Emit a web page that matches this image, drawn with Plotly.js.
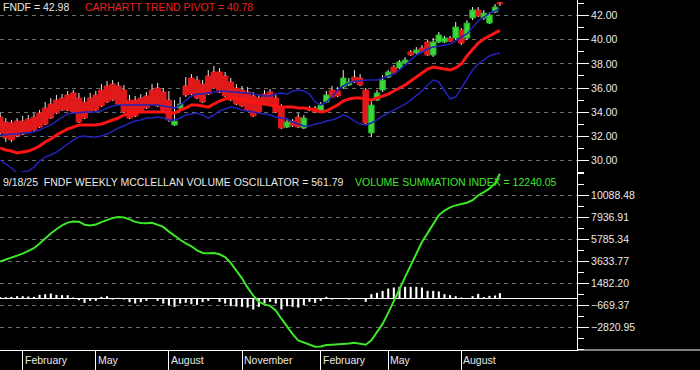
<!DOCTYPE html>
<html><head><meta charset="utf-8">
<script src="https://cdn.plot.ly/plotly-3.0.1.min.js"></script>
<style>html,body{margin:0;padding:0;background:#000;overflow:hidden}#chart{width:700px;height:370px}</style>
</head><body><div id="chart"></div>
<script>
const dates = ['2024-01-05','2024-01-12','2024-01-19','2024-01-26','2024-02-02','2024-02-09','2024-02-16','2024-02-23','2024-03-01','2024-03-08','2024-03-15','2024-03-22','2024-03-29','2024-04-05','2024-04-12','2024-04-19','2024-04-26','2024-05-03','2024-05-10','2024-05-17','2024-05-24','2024-05-31','2024-06-07','2024-06-14','2024-06-21','2024-06-28','2024-07-05','2024-07-12','2024-07-19','2024-07-26','2024-08-02','2024-08-09','2024-08-16','2024-08-23','2024-08-30','2024-09-06','2024-09-13','2024-09-20','2024-09-27','2024-10-04','2024-10-11','2024-10-18','2024-10-25','2024-11-01','2024-11-08','2024-11-15','2024-11-22','2024-11-29','2024-12-06','2024-12-13','2024-12-20','2024-12-27','2025-01-03','2025-01-10','2025-01-17','2025-01-24','2025-01-31','2025-02-07','2025-02-14','2025-02-21','2025-02-28','2025-03-07','2025-03-14','2025-03-21','2025-03-28','2025-04-04','2025-04-11','2025-04-18','2025-04-25','2025-05-02','2025-05-09','2025-05-16','2025-05-23','2025-05-30','2025-06-06','2025-06-13','2025-06-20','2025-06-27','2025-07-04','2025-07-11','2025-07-18','2025-07-25','2025-08-01','2025-08-08','2025-08-15','2025-08-22','2025-08-29','2025-09-05','2025-09-12','2025-09-18'];
const openP = [33.59,33.18,33.10,33.26,33.26,33.43,33.59,33.93,34.34,34.67,35.00,35.17,35.42,35.59,35.17,34.84,35.17,35.42,35.83,36.17,36.33,36.17,35.83,35.00,35.00,35.17,35.34,35.83,36.00,35.67,35.00,32.93,34.34,36.17,36.83,36.66,36.33,37.00,37.33,37.33,37.00,36.50,36.00,35.83,35.67,35.34,35.17,35.50,35.67,35.17,34.34,32.76,33.26,33.59,32.68,34.34,34.34,34.01,34.84,35.83,35.75,36.08,36.25,36.91,36.83,35.83,32.27,35.00,35.83,36.91,37.74,37.66,38.08,38.99,38.91,39.32,39.82,38.74,39.82,39.82,40.15,40.15,40.81,40.15,41.81,42.47,41.81,41.39,42.31,43.08];
const highP = [33.93,33.51,33.35,33.51,33.68,33.76,33.93,34.17,34.84,35.17,35.42,35.50,35.75,35.83,35.59,35.25,35.59,35.75,36.33,36.58,36.66,36.50,36.25,35.42,35.34,35.50,35.67,36.33,36.42,36.00,35.75,35.00,35.25,36.91,37.16,37.00,36.66,37.49,37.83,37.66,37.33,36.83,36.33,36.17,36.08,35.67,35.42,35.83,35.92,35.42,34.67,33.51,33.43,33.93,33.76,34.51,34.51,34.84,35.75,36.17,36.08,37.49,36.83,37.49,37.16,36.00,35.00,35.83,37.08,37.49,37.91,38.32,38.57,39.15,39.40,39.57,39.98,40.15,40.65,40.32,40.32,41.48,40.98,41.64,42.72,42.72,42.47,42.31,42.97,43.14];
const lowP = [32.10,31.52,31.52,31.93,32.10,32.27,32.43,32.68,32.93,33.43,33.84,34.09,34.09,33.93,33.10,33.43,33.93,34.09,34.42,34.76,34.92,34.59,33.93,33.43,33.59,33.93,34.26,34.59,34.42,34.09,33.18,32.85,34.17,35.25,35.42,35.09,34.76,35.42,35.92,35.59,35.25,34.92,34.59,34.42,34.09,33.59,33.93,34.59,34.59,33.93,32.60,32.68,32.76,32.68,32.60,34.09,33.93,33.93,34.76,35.17,35.25,35.92,36.17,36.42,36.17,33.01,31.93,34.92,35.67,36.83,37.16,37.58,37.99,38.66,38.82,38.91,38.66,38.57,39.73,39.73,39.82,39.98,39.57,39.98,41.64,41.89,41.64,41.31,42.22,42.80];
const closeP = [32.27,31.85,31.69,32.02,32.18,32.35,32.52,32.76,33.01,33.51,33.93,34.17,34.17,34.01,33.18,33.51,34.01,34.17,34.51,34.84,35.00,34.67,34.01,33.51,33.68,34.01,34.34,34.67,34.51,34.17,33.35,33.26,34.67,35.42,35.50,35.17,34.84,35.50,36.00,35.67,35.34,35.00,34.67,34.51,34.17,33.68,34.01,34.67,34.67,34.01,32.68,33.18,32.85,32.76,33.51,34.17,34.01,34.59,35.42,35.25,35.34,36.83,36.50,36.50,36.25,33.10,34.59,35.59,36.66,37.33,37.25,38.16,38.32,38.74,39.15,38.99,38.74,39.82,40.40,40.15,39.90,41.06,39.73,41.39,42.47,41.97,42.22,42.06,42.72,42.98];
const candleColor = ['r','r','r','r','r','r','r','r','r','r','r','r','r','r','r','r','r','r','r','r','r','r','r','r','r','r','r','r','r','r','r','g','g','r','r','r','r','r','r','r','r','r','r','r','r','r','r','r','r','r','r','g','r','r','g','r','r','g','g','r','r','g','g','r','r','r','g','g','g','g','r','g','g','r','g','r','r','g','g','g','r','g','r','g','g','r','g','g','g','r'];
const trendPivot = [31.02,30.86,30.77,30.61,30.69,30.77,30.94,31.19,31.52,31.77,32.10,32.35,32.60,32.76,32.93,32.93,32.93,32.93,33.01,33.18,33.35,33.51,33.76,33.93,34.01,34.01,34.01,34.01,34.01,34.01,33.93,33.93,34.17,34.34,34.59,34.59,34.51,34.42,34.67,34.92,35.09,35.25,35.17,35.00,34.92,34.84,34.76,34.67,34.59,34.51,34.42,34.42,34.42,34.34,34.34,34.26,34.17,34.01,34.09,34.34,34.59,34.92,35.09,35.17,35.17,35.09,35.00,35.17,35.34,35.50,35.75,36.00,36.25,36.58,36.91,37.25,37.58,37.74,37.66,37.58,37.49,37.66,37.99,38.66,39.24,39.73,40.07,40.32,40.56,40.78];
const upperBand = [32.10,32.10,32.18,32.18,32.27,32.27,32.35,32.52,32.76,32.93,33.26,33.59,33.84,33.93,33.93,34.01,34.01,34.01,34.09,34.34,34.51,34.59,34.59,34.59,34.59,34.59,34.59,34.59,34.59,34.51,34.42,34.34,34.59,35.00,35.34,35.50,35.50,35.59,35.67,35.75,35.75,35.67,35.67,35.59,35.59,35.50,35.42,35.34,35.34,35.50,35.59,35.50,35.75,35.83,35.75,35.50,34.84,34.59,34.84,35.25,35.83,36.17,36.42,36.58,36.58,36.66,36.66,36.66,36.83,37.00,37.16,37.49,37.91,38.32,38.74,38.99,39.24,39.40,39.49,39.57,39.65,39.90,40.23,40.48,41.06,41.56,41.89,42.22,42.39,42.56];
const lowerBand = [30.02,29.69,29.36,28.95,29.03,29.11,29.44,29.94,30.27,30.44,30.69,31.02,31.35,31.68,31.93,32.02,31.93,31.93,32.02,32.18,32.43,32.68,32.85,33.10,33.26,33.35,33.51,33.51,33.59,33.51,33.35,33.35,33.51,33.76,33.84,33.93,33.76,33.51,33.76,34.09,34.26,34.42,34.34,34.17,34.09,34.01,33.93,33.84,33.76,33.59,33.51,33.43,33.18,33.01,32.85,32.85,33.01,33.10,33.26,33.35,33.51,33.76,33.59,33.26,33.01,32.93,33.10,33.35,33.68,33.93,34.17,34.42,34.67,35.00,35.34,35.75,36.25,36.66,36.50,35.83,35.09,35.25,36.00,36.83,37.49,37.99,38.32,38.66,38.82,38.91];
const volumeSummation = [3643,3839,3986,4211,4416,4700,4954,5404,5942,6401,6812,7184,7458,7575,7546,7252,7184,7272,7507,7751,7917,8005,7947,7771,7526,7428,7389,7438,7243,7037,6577,6147,5776,5433,5140,4739,4494,4465,4485,4357,4093,3526,2802,2010,1091,328,-308,-542,-689,-1139,-1941,-2723,-3457,-4073,-4298,-4494,-4679,-4650,-4523,-4484,-4454,-4415,-4357,-4288,-4386,-4484,-4044,-3271,-2450,-1374,-269,934,2128,3311,4445,5560,6431,7252,8172,8631,8954,9140,9277,9404,9648,10108,10431,10773,11311,12240.05];
const volumeOscillator = [150,163,196,261,261,228,196,391,456,522,391,359,359,130,-130,-391,-196,-196,196,261,-65,98,-65,-326,-456,-326,-196,65,-196,-456,-619,-782,-456,-391,-522,-587,-326,-196,33,-293,-456,-717,-750,-782,-848,-1043,-782,-456,-293,-456,-1043,-717,-782,-848,-619,-293,-391,-196,196,-65,20,65,-65,65,-20,-293,456,587,782,1011,1108,1174,1174,1174,1174,1108,782,782,717,456,359,261,130,33,261,489,163,293,326,561.79];
const priceTicks = [30,32,34,36,38,40,42];
const vsiTicks = [-2820.95,-669.37,1482.20,3633.77,5785.34,7936.91,10088.48];
const monthTicks = ['2024-02-02','2024-05-03','2024-08-02','2024-11-01','2025-02-07','2025-05-02','2025-08-01'];
const monthLabels = ['February','May','August','November','February','May','August'];
const headerTexts = ['FNDF = 42.98','CARHARTT TREND PIVOT = 40.78','9/18/25\u00a0\u00a0FNDF WEEKLY MCCLELLAN VOLUME OSCILLATOR = 561.79','VOLUME SUMMATION INDEX = 12240.05'];

const FONT = 'Liberation Sans, Arial, sans-serif';
const RED = '#e01a1a', GREEN = '#3bd83b', WICK = '#e6e6e6', BLUE = '#2222b8';
const DAY = 86400000;

function bodies(flag, fill, edge){
  const idx = dates.map((d,i)=>i).filter(i=>candleColor[i]===flag);
  return {type:'bar', xaxis:'x', yaxis:'y',
    x: idx.map(i=>dates[i]),
    base: idx.map(i=>Math.min(openP[i],closeP[i])),
    y: idx.map(i=>Math.max(Math.abs(closeP[i]-openP[i]),0.06)),
    width: 7*DAY, marker:{color:fill, line:{color:edge, width:1}}, hoverinfo:'skip', showlegend:false};
}
const wx = [], wy = [];
dates.forEach((d,i)=>{
  const top = Math.max(openP[i],closeP[i]), bot = Math.min(openP[i],closeP[i]);
  wx.push(d,d,null,d,d,null); wy.push(highP[i],top,null,bot,lowP[i],null);
});
const traces = [
  bodies('r', RED, RED), bodies('g', GREEN, '#23a823'),
  {type:'scatter', mode:'lines', x:wx, y:wy, xaxis:'x', yaxis:'y', line:{color:WICK,width:1}, connectgaps:false, hoverinfo:'skip', showlegend:false},
  {type:'scatter', mode:'lines', x:dates, y:lowerBand, xaxis:'x', yaxis:'y', line:{color:BLUE,width:1.5}, hoverinfo:'skip', showlegend:false},
  {type:'scatter', mode:'lines', x:dates, y:upperBand, xaxis:'x', yaxis:'y', line:{color:BLUE,width:1.5}, hoverinfo:'skip', showlegend:false},
  {type:'scatter', mode:'lines', x:dates, y:trendPivot, xaxis:'x', yaxis:'y', line:{color:'#ff1414',width:3}, hoverinfo:'skip', showlegend:false},
  {type:'bar', x:dates, y:volumeOscillator, xaxis:'x', yaxis:'y2', width:2.6*DAY, marker:{color:'#ffffff', line:{width:0}}, hoverinfo:'skip', showlegend:false},
  {type:'scatter', mode:'lines', x:dates, y:volumeSummation, xaxis:'x', yaxis:'y2', line:{color:'#3ee62a',width:2}, hoverinfo:'skip', showlegend:false}
];

const tickFont = {family:FONT, size:10.5, color:'#e8e8e8'};
const yCommon = {side:'right', anchor:'x', ticks:'outside', ticklen:11, tickwidth:1, tickcolor:'#ffffff',
  showline:true, linecolor:'#ffffff', linewidth:1, showgrid:true, gridcolor:'#6e6e6e', gridwidth:1, griddash:'4px,4px',
  tickfont:tickFont, tickformat:'.2f', tickmode:'array', fixedrange:true};

const annotations = [
  {text:headerTexts[0], x:2/577, y:(350-7)/350, font:{family:FONT,size:10.5,color:'#e8e8e8'}},
  {text:headerTexts[1], x:84/577, y:(350-7)/350, font:{family:FONT,size:10.5,color:'#e8231f'}},
  {text:headerTexts[2], x:2/577, y:(350-182)/350, font:{family:FONT,size:10.5,color:'#e8e8e8'}},
  {text:headerTexts[3], x:354/577, y:(350-182)/350, font:{family:FONT,size:10.5,color:'#3ee62a'}}
].map(a=>Object.assign({xref:'paper', yref:'paper', xanchor:'left', yanchor:'middle', showarrow:false, borderpad:0}, a));
monthTicks.forEach((d,k)=>annotations.push({text:monthLabels[k], xref:'x', x:d, yref:'paper', y:0, yshift:-10,
  xanchor:'left', yanchor:'middle', xshift:1, showarrow:false, borderpad:0, font:{family:FONT,size:10.5,color:'#e8e8e8'}}));

const layout = {
  width:700, height:370, margin:{l:0, r:123, t:0, b:20, pad:0},
  paper_bgcolor:'#000000', plot_bgcolor:'#000000', showlegend:false, barmode:'overlay',
  xaxis:{type:'date', domain:[0,1], anchor:'y2', range:['2024-01-04 18:00','2025-12-23'],
    showgrid:false, zeroline:false, showline:true, linecolor:'#ffffff', linewidth:1,
    tickmode:'array', tickvals:monthTicks, ticks:'outside', ticklen:20, tickwidth:1, tickcolor:'#ffffff',
    showticklabels:false, fixedrange:true},
  yaxis:Object.assign({}, yCommon, {domain:[(350-176)/350,1], range:[28.70,43.303], tickvals:priceTicks, zeroline:false,
    minor:{tickmode:'linear', tick0:31, dtick:2, ticks:'outside', ticklen:6, tickcolor:'#ffffff', tickwidth:1, showgrid:false}}),
  yaxis2:Object.assign({}, yCommon, {domain:[0,(350-172)/350], range:[-5002,12406], tickvals:vsiTicks,
    zeroline:true, zerolinecolor:'#ffffff', zerolinewidth:1,
    minor:{tickmode:'linear', tick0:-2820.95, dtick:1075.785, ticks:'outside', ticklen:6, tickcolor:'#ffffff', tickwidth:1, showgrid:false}}),
  shapes:[{type:'line', xref:'paper', yref:'paper', x0:1, x1:700/577, y0:0, y1:0, line:{color:'#ffffff', width:1}}],
  annotations:annotations
};
Plotly.newPlot('chart', traces, layout, {staticPlot:true, displayModeBar:false});
</script></body></html>
